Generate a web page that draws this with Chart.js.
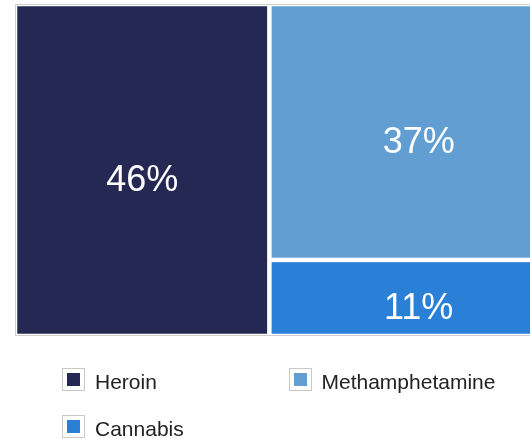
<!DOCTYPE html>
<html>
<head>
<meta charset="utf-8">
<script src="https://cdn.jsdelivr.net/npm/chart.js@4.4.1/dist/chart.umd.min.js"></script>
<style>
  html, body { margin: 0; padding: 0; background: #fff; overflow: hidden; width: 530px; height: 439px; }
  #wrap { position: absolute; left: 0; top: 0; width: 570px; height: 340px; }
  #legend { position: absolute; left: 0; top: 0; width: 530px; height: 439px; pointer-events: none; }
  .item { position: absolute; height: 23px; }
  .box { position: absolute; left: 0; top: 0; width: 21px; height: 21px; border: 1px solid #c9c9c9; background: #fff; }
  .box span { position: absolute; left: 4px; top: 4px; width: 13px; height: 13px; }
  .lbl { position: absolute; left: 33px; top: 2px; white-space: nowrap; font: 21px "Liberation Sans", Arial, sans-serif; line-height: 23px; color: #222; }
</style>
</head>
<body>
<div id="wrap"><canvas id="treemapDrugs"></canvas></div>
<div id="legend"></div>
<script>
const categories = ["Heroin", "Methamphetamine", "Cannabis"];
const values = [46, 37, 11];
const colors = ["#262854", "#629ed1", "#2a7fd6"];

// first item fills a column, the rest stack in the remaining column
const layoutRects = () => {
  const rects = [];
  const first = values[0];
  rects.push({ x0: 0, x1: first, y0: 0, y1: 100 });
  const rest = values.slice(1).reduce((a, b) => a + b, 0);
  let top = 100;
  for (let i = 1; i < values.length; i++) {
    const h = values[i] / rest * 100;
    rects.push({ x0: first, x1: 100, y0: top - h, y1: top });
    top -= h;
  }
  return rects;
};

const treemapPlugin = {
  id: "treemapCells",
  beforeDatasetsDraw(chart) {
    const { ctx, chartArea, scales } = chart;
    const gap = 2.25;
    ctx.save();
    ctx.strokeStyle = "#cfcfcf";
    ctx.lineWidth = 1;
    ctx.strokeRect(chartArea.left + 0.5, chartArea.top + 0.5,
      chartArea.right - chartArea.left - 1, chartArea.bottom - chartArea.top - 1);
    layoutRects().forEach((r, i) => {
      const left = scales.x.getPixelForValue(r.x0) + gap;
      const right = scales.x.getPixelForValue(r.x1) - gap;
      const top = scales.y.getPixelForValue(r.y1) + gap;
      const bottom = scales.y.getPixelForValue(r.y0) - gap;
      ctx.fillStyle = colors[i];
      ctx.fillRect(left, top, right - left, bottom - top);
      ctx.fillStyle = "#fff";
      ctx.font = '36px "Liberation Sans", Arial, sans-serif';
      ctx.textAlign = "center";
      ctx.textBaseline = "alphabetic";
      ctx.fillText(values[i] + "%", (left + right) / 2, (top + bottom) / 2 + 21);
    });
    ctx.restore();
  }
};

new Chart("treemapDrugs", {
  type: "scatter",
  data: { datasets: [{ data: [], pointRadius: 0 }] },
  options: {
    responsive: true,
    maintainAspectRatio: false,
    animation: false,
    layout: { padding: { left: 15, top: 4, right: 2, bottom: 4 } },
    scales: {
      x: { type: "linear", min: 0, max: 100, display: false },
      y: { type: "linear", min: 0, max: 100, display: false }
    },
    plugins: { legend: { display: false }, tooltip: { enabled: false } }
  },
  plugins: [treemapPlugin]
});

const legend = document.getElementById("legend");
categories.forEach((name, i) => {
  const item = document.createElement("div");
  item.className = "item";
  item.style.left = (62 + (i % 2) * 226.5) + "px";
  item.style.top = (368 + Math.floor(i / 2) * 47) + "px";
  item.innerHTML = '<div class="box"><span style="background:' + colors[i] + '"></span></div>' +
    '<div class="lbl">' + name + '</div>';
  legend.appendChild(item);
});
</script>
</body>
</html>
